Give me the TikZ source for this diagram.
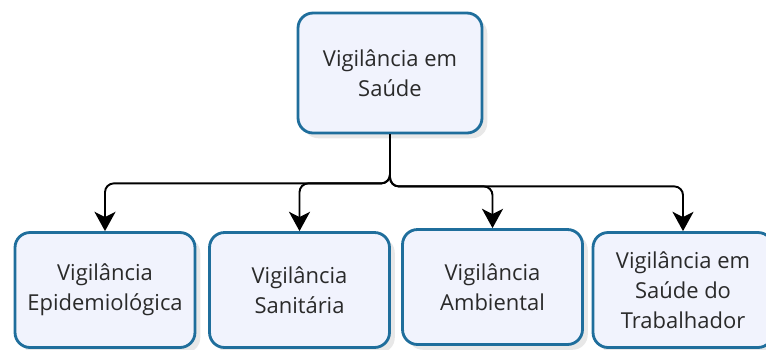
\documentclass[tikz,border=0pt]{standalone}
\usepackage{fontspec}
\setmainfont{Open Sans}
\usetikzlibrary{arrows.meta,shadows}
\definecolor{boxline}{HTML}{1F6E9C}
\definecolor{boxfill}{HTML}{F1F3FD}
\definecolor{boxtext}{HTML}{2A2A2A}
\begin{document}
\begin{tikzpicture}[x=0.02cm, y=-0.02cm,
    unit/.style={draw=boxline, line width=1.6pt, fill=boxfill, rounded corners=0.3cm,
        text=boxtext, align=center, inner sep=0pt, font=\fontsize{12.5}{17}\selectfont,
        drop shadow={opacity=0.18, shadow xshift=3pt, shadow yshift=-3pt}},
    topunit/.style={unit, minimum width=3.68cm, minimum height=2.4cm},
    subunit/.style={unit, minimum width=3.6cm, minimum height=2.3cm},
    link/.style={line width=1.1pt, rounded corners=5pt, -{Stealth[length=11pt, width=12pt, inset=3pt]}}]

    % Fix the size of the picture
    \useasboundingbox (0,0) rectangle (766,349);

    % Draw the main box
    \node[topunit] (saude) at (390,73) {Vigilância em\\Saúde};

    % Draw the four sub boxes
    \node[subunit] (epid) at (105,290) {Vigilância\\Epidemiológica};
    \node[subunit] (sanit) at (299.5,290) {Vigilância\\Sanitária};
    \node[subunit] (amb) at (492.5,287) {Vigilância\\Ambiental};
    \node[subunit] (trab) at (683,290) {Vigilância em\\Saúde do\\Trabalhador};

    % Draw the branches to the left
    \draw[link] (saude.south) -- ++(0,49) -| (epid.north);
    \draw[link] (saude.south) -- ++(0,49) -| (sanit.north);

    % Draw the branches to the right
    \draw[link] (saude.south) -- ++(0,52) -| (amb.north);
    \draw[link] (saude.south) -- ++(0,52) -| (trab.north);

\end{tikzpicture}
\end{document}
